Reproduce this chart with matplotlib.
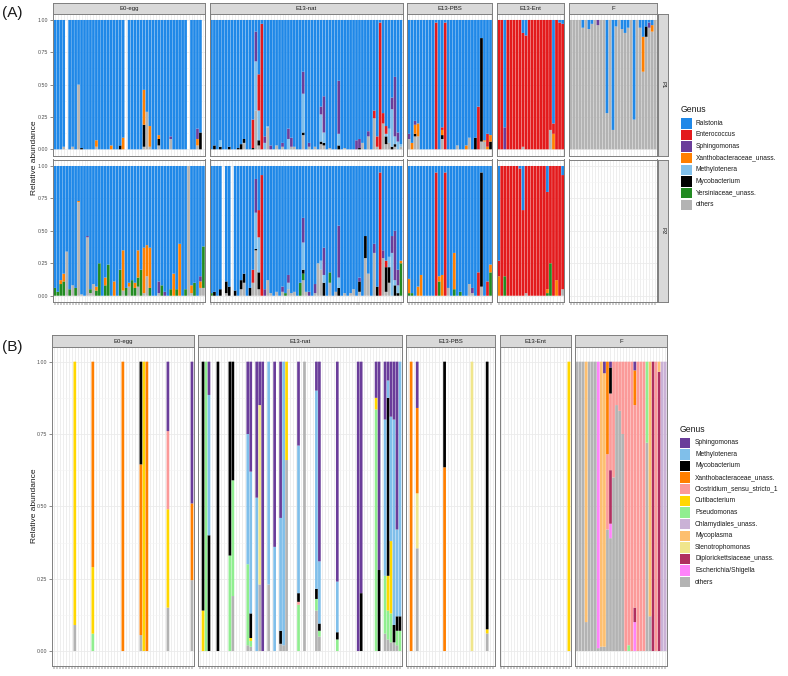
import matplotlib
matplotlib.use("Agg")
import matplotlib.pyplot as plt
from matplotlib.patches import Rectangle

plt.rcParams['font.family'] = ['Liberation Sans', 'DejaVu Sans']

# ---------------- data ----------------
FACETS = ["E0-egg", "E13-nat", "E13-PBS", "E13-Ent", "F"]
ROWS_A = ["P1", "P2"]

GENUS_A = ["Ralstonia", "Enterococcus", "Sphingomonas", "Xanthobacteraceae_unass.",
           "Methylotenera", "Mycobacterium", "Yersiniaceae_unass.", "others"]
CODE_A = ["Ra", "En", "Sp", "Xa", "Me", "My", "Ye", "ot"]
COLOR_A = ["#1f88e8", "#e31a1c", "#6a3d9a", "#ff7f00", "#80bfea", "#000000", "#228b22", "#b3b3b3"]

N_A = [51, 65, 28, 22, 29]
FILL_A = ["Ra", "Ra", "Ra", "En", "ot"]

# sparse compositions: bar -> {genus code: relative abundance}; the filler genus takes the rest
A_P1_E0EGG = {4: {"ot": .02}, 7: {"ot": .02}, 9: {"ot": .50}, 10: {"My": .01},
              15: {"ot": .02, "Xa": .05}, 20: {"Xa": .03}, 23: {"My": .03}, 24: {"Xa": .09},
              31: {"ot": .02, "My": .17, "Xa": .27}, 32: {"ot": .29}, 33: {"ot": .02, "Xa": .16},
              36: {"ot": .03, "My": .05, "Xa": .03}, 40: {"ot": .08, "Sp": .02},
              49: {"ot": .03, "Xa": .05, "Sp": .08}, 50: {"My": .13}}
A_P1_E0EGG_EMPTY = [5, 25, 46, 51]

A_P2_E0EGG = {1: {"Ye": .06}, 2: {"Ye": .03}, 3: {"Ye": .09, "Xa": .03}, 4: {"Ye": .11, "Xa": .06},
              5: {"ot": .34}, 6: {"Ye": .05}, 7: {"ot": .08}, 8: {"Ye": .06}, 9: {"ot": .72, "Xa": .01},
              10: {"ot": .01}, 12: {"ot": .45, "Sp": .01}, 13: {"ot": .02, "Ye": .03}, 14: {"ot": .09},
              15: {"Ye": .04, "Xa": .03}, 16: {"Ye": .25}, 18: {"Ye": .08, "Xa": .06}, 19: {"Ye": .24},
              21: {"Xa": .11}, 23: {"Ye": .20}, 24: {"ot": .04, "Xa": .31}, 25: {"Ye": .06},
              26: {"ot": .07, "Xa": .03}, 27: {"Ye": .12}, 28: {"Ye": .06, "Xa": .04},
              29: {"ot": .07, "Ye": .07, "Xa": .21}, 30: {"Ye": .20}, 31: {"ot": .02, "Xa": .35},
              32: {"ot": .15, "Xa": .24}, 33: {"Ye": .06, "Xa": .31}, 36: {"ot": .02, "Sp": .09},
              37: {"Ye": .08}, 38: {"Sp": .03}, 40: {"Ye": .05}, 41: {"Xa": .17}, 42: {"Ye": .05},
              43: {"Xa": .40}, 45: {"Ye": .05}, 46: {"ot": 1.0}, 47: {"ot": .02, "Xa": .06},
              48: {"Ye": .10}, 50: {"ot": .06, "Xa": .05, "Sp": .04}, 51: {"ot": .06, "Ye": .32}}
A_P2_E0EGG_EMPTY = []

A_P1_E13NAT = {2: {"My": .03}, 4: {"My": .02, "Me": .05}, 7: {"My": .02}, 10: {"My": .01}, 11: {"My": .04},
               12: {"ot": .05, "My": .03}, 15: {"My": .01, "En": .22}, 16: {"ot": .30, "Me": .38, "Sp": .23},
               17: {"ot": .03, "My": .04, "Me": .23, "En": .28}, 18: {"En": .97}, 19: {"Me": .05, "Sp": .05},
               20: {"ot": .17, "Me": .01}, 21: {"Sp": .03}, 23: {"ot": .03}, 25: {"ot": .02, "Sp": .03},
               27: {"Me": .08, "Sp": .08}, 28: {"ot": .02, "Sp": .07}, 29: {"ot": .02},
               32: {"ot": .11, "My": .02, "Me": .30, "Sp": .17}, 34: {"ot": .02, "Sp": .03}, 36: {"ot": .02},
               38: {"ot": .04, "My": .02, "Me": .21, "Sp": .06}, 39: {"ot": .03, "My": .02, "Me": .08, "Sp": .28},
               41: {"ot": .01}, 44: {"My": .03, "Me": .09, "Sp": .41}, 46: {"ot": .01}, 50: {"Sp": .07},
               51: {"My": .01, "Sp": .07}, 52: {"ot": .05}, 54: {"ot": .10, "Sp": .04}, 56: {"ot": .24, "En": .06},
               57: {"ot": .02, "En": .08}, 58: {"En": .98}, 59: {"ot": .20, "En": .08},
               60: {"ot": .04, "My": .06, "Me": .02, "En": .06}, 61: {"ot": .05, "Me": .11},
               62: {"My": .02, "Me": .29, "Sp": .09}, 63: {"ot": .02, "My": .02, "Me": .06, "Sp": .46},
               64: {"Me": .06, "Sp": .07}, 65: {"ot": .02, "Me": .02}}
A_P1_E13NAT_EMPTY = []

A_P2_E13NAT = {1: {"Ye": .02}, 2: {"My": .03}, 4: {"My": .05}, 6: {"ot": .02, "My": .09}, 7: {"My": .07},
               9: {"My": .04}, 11: {"ot": .05, "My": .07}, 12: {"ot": .10, "My": .07}, 14: {"My": .06},
               15: {"ot": .10, "En": .10}, 16: {"ot": .35, "My": .01, "Me": .28, "Sp": .26},
               17: {"ot": .05, "My": .13, "Me": .27, "En": .21}, 18: {"En": .93}, 19: {"Sp": .05},
               20: {"ot": .12}, 21: {"ot": .02}, 23: {"ot": .03}, 25: {"ot": .03, "Sp": .04}, 26: {"Ye": .02},
               27: {"ot": .05, "Me": .05, "Sp": .06}, 28: {"ot": .02}, 29: {"ot": .03}, 31: {"Ye": .10},
               32: {"ot": .12, "Ye": .05, "My": .03, "Me": .21, "Sp": .19}, 33: {"ot": .03}, 34: {"Sp": .03},
               36: {"ot": .02, "Sp": .07}, 37: {"ot": .25}, 38: {"ot": .20, "Me": .07},
               39: {"My": .10, "Me": .06, "Sp": .21}, 41: {"ot": .10, "Ye": .08}, 43: {"ot": .03},
               44: {"My": .06, "Me": .08, "Sp": .40}, 46: {"ot": .02}, 48: {"ot": .02}, 49: {"ot": .05},
               51: {"ot": .03, "My": .08, "Sp": .03}, 53: {"ot": .29, "My": .17}, 54: {"ot": .17},
               56: {"ot": .33, "Sp": .07}, 57: {"My": .07}, 58: {"En": .95}, 59: {"ot": .29, "Sp": .06},
               60: {"ot": .03, "My": .19, "En": .05}, 61: {"ot": .10, "My": .12, "Me": .08},
               62: {"Me": .33, "Sp": .13}, 63: {"My": .08, "Me": .04, "Sp": .38},
               64: {"My": .02, "Me": .06, "Sp": .12}, 65: {"Ye": .25, "Xa": .02}}
A_P2_E13NAT_EMPTY = [5, 8]

A_P1_E13PBS = {1: {"ot": .08, "Sp": .04}, 2: {"Xa": .05}, 3: {"ot": .10, "My": .02, "Xa": .07, "Sp": .03},
               4: {"ot": .10, "Xa": .10}, 10: {"En": .98}, 12: {"ot": .08, "My": .03, "Xa": .04, "En": .02},
               13: {"En": .98}, 17: {"ot": .03}, 20: {"Xa": .03}, 21: {"ot": .09}, 23: {"My": .09},
               24: {"En": .33}, 25: {"ot": .06, "My": .80}, 26: {"ot": .06, "Xa": .01},
               27: {"Xa": .02, "En": .10}, 28: {"My": .06, "Xa": .05}}
A_P1_E13PBS_EMPTY = []

A_P2_E13PBS = {1: {"Ye": .02, "Xa": .11}, 2: {"Ye": .02}, 4: {"Xa": .07}, 5: {"Xa": .16}, 10: {"En": .95},
               11: {"Ye": .11, "Xa": .04}, 12: {"Xa": .16}, 13: {"En": .95}, 14: {"ot": .06},
               16: {"Ye": .05, "Xa": .28}, 18: {"Ye": .03}, 21: {"ot": .09}, 22: {"ot": .02, "Sp": .04},
               24: {"En": .18}, 25: {"ot": .07, "My": .88}, 27: {"En": .11}, 28: {"Ye": .18, "Xa": .06}}
A_P2_E13PBS_EMPTY = []

A_P1_E13ENT = {3: {"Sp": .17, "Ra": .83}, 9: {"ot": .02, "Ra": .10}, 10: {"Ra": .12}, 18: {"ot": .15},
               19: {"Xa": .12, "Ra": .80}, 21: {"Ra": .02}, 22: {"Ra": .03}}
A_P1_E13ENT_EMPTY = []

A_P2_E13ENT = {1: {"Xa": .15, "Ra": .73}, 3: {"Ye": .15}, 8: {"Ra": .02}, 9: {"Ra": .34}, 10: {"ot": .02},
               17: {"Ye": .02, "Xa": .03, "Ra": .20}, 18: {"Ye": .25}, 20: {"Xa": .12},
               22: {"ot": .05, "Ra": .07}}
A_P2_E13ENT_EMPTY = []

A_P1_F = {5: {"Ra": .06}, 7: {"Ra": .07}, 8: {"Ra": .03}, 10: {"Sp": .04}, 13: {"Ra": .72},
          15: {"Ra": .85}, 16: {"Ra": .05}, 18: {"Ra": .07}, 19: {"Ra": .10}, 20: {"Ra": .06},
          22: {"Ra": .77}, 24: {"Ra": .06}, 25: {"Xa": .27, "Ra": .13}, 26: {"My": .08, "Ra": .05},
          27: {"Sp": .04, "Ra": .02}, 28: {"Xa": .05, "Ra": .04}}
A_P1_F_EMPTY = []
A_P2_F = {}
A_P2_F_EMPTY = list(range(1, 30))

DATA_A = {
    ("P1", "E0-egg"): (A_P1_E0EGG, A_P1_E0EGG_EMPTY), ("P2", "E0-egg"): (A_P2_E0EGG, A_P2_E0EGG_EMPTY),
    ("P1", "E13-nat"): (A_P1_E13NAT, A_P1_E13NAT_EMPTY), ("P2", "E13-nat"): (A_P2_E13NAT, A_P2_E13NAT_EMPTY),
    ("P1", "E13-PBS"): (A_P1_E13PBS, A_P1_E13PBS_EMPTY), ("P2", "E13-PBS"): (A_P2_E13PBS, A_P2_E13PBS_EMPTY),
    ("P1", "E13-Ent"): (A_P1_E13ENT, A_P1_E13ENT_EMPTY), ("P2", "E13-Ent"): (A_P2_E13ENT, A_P2_E13ENT_EMPTY),
    ("P1", "F"): (A_P1_F, A_P1_F_EMPTY), ("P2", "F"): (A_P2_F, A_P2_F_EMPTY),
}

GENUS_B = ["Sphingomonas", "Methylotenera", "Mycobacterium", "Xanthobacteraceae_unass.",
           "Clostridium_sensu_stricto_1", "Cutibacterium", "Pseudomonas", "Chlamydiales_unass.",
           "Mycoplasma", "Stenotrophomonas", "Diplorickettsiaceae_unass.", "Escherichia/Shigella", "others"]
CODE_B = ["Sp", "Me", "My", "Xa", "Cl", "Cu", "Ps", "Ch", "Mp", "St", "Di", "Es", "ot"]
COLOR_B = ["#6a3d9a", "#80bfea", "#000000", "#ff7f00", "#fb9a99", "#ffd700", "#90ee90", "#cab2d6",
           "#fdbf6f", "#f0e68c", "#b03060", "#ff83fa", "#b3b3b3"]
N_B = [47, 68, 29, 23, 30]

B_E0EGG = {8: {"ot": .09, "Cu": .91}, 14: {"Ps": .06, "Cu": .23, "Xa": .71}, 24: {"Xa": 1.0},
           30: {"ot": .055, "Xa": .59, "My": .355}, 31: {"Cu": 1.0}, 32: {"Xa": 1.0},
           39: {"ot": .15, "Cu": .34, "Cl": .27, "Sp": .24}, 47: {"ot": .245, "Xa": .265, "Sp": .49}}
B_E13NAT = {2: {"Cu": .14, "My": .86}, 3: {"Ps": 1.0}, 4: {"My": .40, "Me": .485, "Sp": .115},
            7: {"My": 1.0}, 11: {"Ps": .33, "My": .67}, 12: {"ot": .19, "Ps": .40, "My": .41},
            17: {"ot": .02, "Ps": .28, "Me": .45, "Sp": .25},
            18: {"ot": .015, "Ps": .02, "Cu": .01, "My": .085, "Me": .49, "Sp": .38},
            20: {"Me": .53, "Sp": .47}, 21: {"ot": .23, "St": .62, "Sp": .15}, 22: {"Sp": 1.0},
            24: {"ot": .23, "Me": .77}, 26: {"Me": .36, "Sp": .64},
            28: {"ot": .025, "My": .045, "Me": .39, "Sp": .54}, 29: {"ot": .02, "Me": .98},
            30: {"ot": .66, "Cu": .34}, 34: {"Ps": .16, "Cl": .01, "My": .03, "Me": .51, "Sp": .29},
            36: {"ot": 1.0}, 40: {"ot": .14, "Ps": .04, "My": .035, "Me": .685, "Sp": .10},
            41: {"ot": .05, "Ps": .02, "My": .025, "Me": .215, "Sp": .69},
            47: {"Ps": .04, "My": .025, "Me": .175, "Sp": .76}, 54: {"Sp": 1.0}, 55: {"My": .20, "Sp": .80},
            60: {"Cu": .04, "Ps": .835, "Sp": .125}, 61: {"My": .28, "Sp": .72},
            63: {"ot": .06, "Ps": .20, "Me": .54, "Sp": .20},
            64: {"ot": .04, "Ps": .10, "Cu": .12, "My": .615, "Me": .06, "Sp": .065},
            65: {"ot": .03, "Ps": .10, "Cu": .25, "Me": .43, "Sp": .19},
            66: {"ot": .03, "My": .06, "Me": .71, "Sp": .20},
            67: {"ot": .02, "Ps": .05, "My": .05, "Me": .30, "Sp": .58},
            68: {"Ps": .07, "My": .05, "Me": .88}}
B_E13PBS = {2: {"Xa": 1.0}, 4: {"ot": .355, "St": .19, "Xa": .295, "Sp": .16}, 13: {"Xa": .635, "My": .365},
            22: {"St": 1.0}, 27: {"ot": .061, "Cu": .014, "My": .925}}
B_E13ENT = {23: {"Cu": 1.0}}
B_F = {1: {"ot": 1.0}, 2: {"ot": 1.0}, 3: {"ot": 1.0}, 4: {"ot": .10, "Mp": .90}, 5: {"ot": 1.0},
       6: {"ot": 1.0}, 7: {"ot": 1.0}, 8: {"ot": .01, "Es": .99}, 9: {"ot": .015, "Mp": .985},
       10: {"ot": .015, "Mp": .945, "Sp": .04}, 11: {"ot": .42, "Cl": .26, "Xa": .32},
       12: {"ot": .39, "Es": .05, "Di": .185, "Cl": .265, "My": .09, "Sp": .02},
       13: {"ot": .60, "Cl": .40}, 14: {"ot": .85, "Cl": .15}, 15: {"ot": .83, "Cl": .17},
       16: {"ot": .75, "Cl": .25}, 17: {"Cl": 1.0}, 18: {"Ps": .02, "Cl": .98}, 19: {"Cl": 1.0},
       20: {"Es": .10, "Di": .05, "Cl": .70, "Xa": .12, "Sp": .03}, 21: {"Cl": 1.0}, 22: {"Cl": 1.0},
       23: {"Cl": 1.0}, 24: {"ot": .72, "Ps": .28}, 25: {"ot": .12, "Mp": .88}, 26: {"Di": 1.0},
       27: {"Cl": 1.0}, 28: {"Di": .965, "Mp": .035}, 29: {"Ch": 1.0}, 30: {"Ch": 1.0}}
DATA_B = [B_E0EGG, B_E13NAT, B_E13PBS, B_E13ENT, B_F]

# ---------------- drawing ----------------
W, H = 788, 676
fig = plt.figure(figsize=(W / 100, H / 100), dpi=100)

BORDER = "#7f7f7f"
GRID = "#ebebeb"
STRIP_BG = "#d9d9d9"


def add_ax(x0, y0, x1, y1):
    return fig.add_axes([x0 / W, 1 - y1 / H, (x1 - x0) / W, (y1 - y0) / H])


def style_panel(ax, n, left, bottom):
    ax.set_xlim(0.4, n + 0.6)
    ax.set_ylim(-0.05, 1.05)
    ax.set_facecolor("white")
    ax.set_xticks(range(1, n + 1))
    ax.set_yticks([0, .25, .5, .75, 1.0])
    ax.set_yticks([.125, .375, .625, .875], minor=True)
    ax.grid(True, which="major", color=GRID, lw=0.6)
    ax.grid(True, which="minor", axis="y", color="#f4f4f4", lw=0.4)
    ax.set_axisbelow(True)
    for s in ax.spines.values():
        s.set_color(BORDER)
        s.set_linewidth(0.7)
    ax.tick_params(axis="y", which="minor", length=0)
    if left:
        ax.set_yticklabels(["0.00", "0.25", "0.50", "0.75", "1.00"])
        ax.tick_params(axis="y", which="major", length=2, width=0.4, color="#333333",
                       labelsize=3.8, labelcolor="#4d4d4d", pad=1.5)
    else:
        ax.tick_params(axis="y", which="major", length=0, labelleft=False)
    if bottom:
        ax.tick_params(axis="x", length=2, width=0.35, color="#333333", labelbottom=False)
    else:
        ax.tick_params(axis="x", length=0, labelbottom=False)


def draw_bars(ax, n, comps, codes, colors, filler=None, empty=()):
    vals = {c: [0.0] * n for c in codes}
    for i in range(1, n + 1):
        if i in empty:
            continue
        comp = comps.get(i, {})
        for c, v in comp.items():
            vals[c][i - 1] += v
        if filler is not None:
            vals[filler][i - 1] += max(1 - sum(comp.values()), 0)
    bottom = [0.0] * n
    xs = list(range(1, n + 1))
    for c, col in reversed(list(zip(codes, colors))):
        bars = ax.bar(xs, vals[c], bottom=bottom, width=0.9, color=col, linewidth=0, zorder=2)
        for b in bars:
            b.set_snap(False)
        bottom = [b + v for b, v in zip(bottom, vals[c])]


def strip_top(x0, y0, x1, y1, label):
    s = add_ax(x0, y0, x1, y1)
    s.set_xticks([]); s.set_yticks([])
    s.set_facecolor(STRIP_BG)
    for sp in s.spines.values():
        sp.set_color(BORDER); sp.set_linewidth(0.7)
    s.text(0.5, 0.5, label, ha="center", va="center", fontsize=4.3, color="#1a1a1a",
           transform=s.transAxes)


def strip_right(x0, y0, x1, y1, label):
    s = add_ax(x0, y0, x1, y1)
    s.set_xticks([]); s.set_yticks([])
    s.set_facecolor(STRIP_BG)
    for sp in s.spines.values():
        sp.set_color(BORDER); sp.set_linewidth(0.7)
    s.text(0.5, 0.5, label, ha="center", va="center", fontsize=4.3, color="#1a1a1a",
           rotation=-90, transform=s.transAxes)


def column_edges(ns, x_start, x_end, gap):
    unit = (x_end - x_start - gap * (len(ns) - 1)) / sum(n + 1.2 for n in ns)
    edges, x = [], x_start
    for n in ns:
        w = (n + 1.2) * unit
        edges.append((x, x + w))
        x += w + gap
    return edges


def legend(x_key, x_text, y_title, y_first, names, colors):
    fig.text(x_key / W, 1 - y_title / H, "Genus", fontsize=6.2, color="#1a1a1a",
             ha="left", va="center")
    step = 11.63
    for k, (nm, col) in enumerate(zip(names, colors)):
        yc = y_first + k * step
        fig.patches.append(Rectangle((x_key / W, 1 - (yc + 5.2) / H), 10.6 / W, 10.4 / H,
                                     transform=fig.transFigure, facecolor=col, edgecolor="none"))
        fig.text(x_text / W, 1 - yc / H, nm, fontsize=4.8, color="#1a1a1a", ha="left", va="center")


# ---- panel A ----
edges_A = column_edges(N_A, 53, 657, 4.5)
rows_y = {"P1": (13.5, 155.8), "P2": (159.5, 302.2)}
for j, (fac, n, (x0, x1)) in enumerate(zip(FACETS, N_A, edges_A)):
    strip_top(x0, 3, x1, 13.5, fac)
    for r, row in enumerate(ROWS_A):
        y0, y1 = rows_y[row]
        ax = add_ax(x0, y0, x1, y1)
        comps, empty = DATA_A[(row, fac)]
        draw_bars(ax, n, comps, CODE_A, COLOR_A, filler=FILL_A[j], empty=set(empty))
        style_panel(ax, n, left=(j == 0), bottom=(r == 1))
for row in ROWS_A:
    y0, y1 = rows_y[row]
    strip_right(657.5, y0, 668, y1, row)

fig.text(2 / W, 1 - 13 / H, "(A)", fontsize=11, ha="left", va="center", color="#1a1a1a")
fig.text(34 / W, 1 - 158 / H, "Relative abundance", fontsize=6, rotation=90,
         ha="center", va="center", color="#1a1a1a")
legend(681, 696, 110, 123.3, GENUS_A, COLOR_A)

# ---- panel B ----
edges_B = column_edges(N_B, 52, 667, 4.5)
for j, (fac, n, (x0, x1)) in enumerate(zip(FACETS, N_B, edges_B)):
    strip_top(x0, 335, x1, 347.2, fac)
    ax = add_ax(x0, 347.2, x1, 665.5)
    comps = DATA_B[j]
    empty = set(i for i in range(1, n + 1) if i not in comps)
    draw_bars(ax, n, comps, CODE_B, COLOR_B, filler=None, empty=empty)
    style_panel(ax, n, left=(j == 0), bottom=True)

fig.text(2 / W, 1 - 347 / H, "(B)", fontsize=11, ha="left", va="center", color="#1a1a1a")
fig.text(34 / W, 1 - 506 / H, "Relative abundance", fontsize=6, rotation=90,
         ha="center", va="center", color="#1a1a1a")
legend(679.5, 695, 429, 442.7, GENUS_B, COLOR_B)

fig.savefig("out.png", dpi=100, facecolor="white")
